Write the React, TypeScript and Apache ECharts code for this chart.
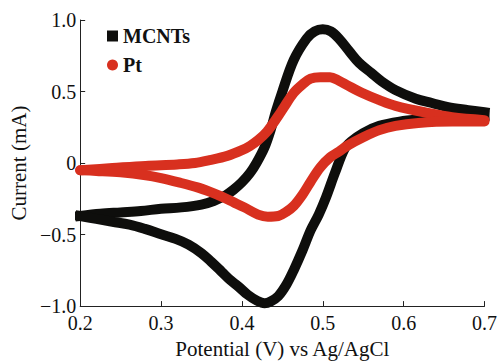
import React, { useEffect, useRef } from "react";
import * as echarts from "echarts";

const mcntsFwdV = [0.200, 0.225, 0.250, 0.275, 0.300, 0.325, 0.350, 0.365, 0.380, 0.390, 0.400, 0.410, 0.418, 0.428, 0.436, 0.442, 0.450, 0.464, 0.480, 0.490, 0.500, 0.510, 0.520, 0.533, 0.545, 0.560, 0.573, 0.590, 0.615, 0.635, 0.655, 0.680, 0.700];
const mcntsFwdI = [-0.37, -0.355, -0.345, -0.335, -0.32, -0.31, -0.29, -0.265, -0.225, -0.185, -0.135, -0.07, 0.0, 0.11, 0.24, 0.36, 0.50, 0.72, 0.87, 0.92, 0.935, 0.92, 0.87, 0.78, 0.70, 0.63, 0.57, 0.51, 0.45, 0.42, 0.39, 0.37, 0.355];

const mcntsRevV = [0.700, 0.660, 0.620, 0.595, 0.570, 0.550, 0.535, 0.527, 0.515, 0.504, 0.495, 0.485, 0.475, 0.464, 0.455, 0.445, 0.435, 0.428, 0.418, 0.407, 0.395, 0.386, 0.375, 0.362, 0.350, 0.334, 0.318, 0.301, 0.280, 0.261, 0.240, 0.220, 0.200];
const mcntsRevI = [0.33, 0.32, 0.305, 0.29, 0.26, 0.21, 0.15, 0.10, -0.07, -0.24, -0.36, -0.47, -0.61, -0.75, -0.85, -0.93, -0.97, -0.98, -0.96, -0.92, -0.86, -0.82, -0.76, -0.69, -0.63, -0.57, -0.53, -0.50, -0.46, -0.43, -0.41, -0.39, -0.37];

const ptFwdV = [0.200, 0.240, 0.281, 0.320, 0.342, 0.360, 0.382, 0.400, 0.410, 0.420, 0.431, 0.445, 0.452, 0.464, 0.475, 0.485, 0.497, 0.509, 0.520, 0.530, 0.549, 0.570, 0.590, 0.630, 0.660, 0.700];
const ptFwdI = [-0.05, -0.035, -0.02, -0.01, 0.0, 0.02, 0.05, 0.09, 0.12, 0.16, 0.22, 0.33, 0.39, 0.49, 0.55, 0.59, 0.60, 0.60, 0.575, 0.545, 0.49, 0.44, 0.40, 0.35, 0.32, 0.30];

const ptRevV = [0.700, 0.660, 0.618, 0.590, 0.570, 0.550, 0.530, 0.520, 0.509, 0.497, 0.485, 0.475, 0.464, 0.455, 0.445, 0.432, 0.420, 0.403, 0.390, 0.375, 0.360, 0.345, 0.322, 0.300, 0.281, 0.250, 0.220, 0.200];
const ptRevI = [0.29, 0.29, 0.28, 0.26, 0.23, 0.18, 0.12, 0.08, 0.04, -0.03, -0.13, -0.22, -0.30, -0.34, -0.37, -0.375, -0.36, -0.31, -0.275, -0.235, -0.20, -0.17, -0.135, -0.105, -0.085, -0.065, -0.055, -0.05];

const seriesNames = ["MCNTs", "Pt"];
const xTitle = "Potential (V) vs Ag/AgCl";
const yTitle = "Current (mA)";

const BLACK = "#0e0e0c";
const RED = "#d8301f";
const FONT = "Times New Roman, Liberation Serif, Tinos, Nimbus Roman, serif";

const zip = (v: number[], i: number[]) => v.map((x, k) => [x, i[k]]);

export default function App() {
  const ref = useRef<HTMLDivElement>(null);
  useEffect(() => {
    if (!ref.current) return;
    const chart = echarts.init(ref.current, undefined, { renderer: "svg" });
    const mk = (name: string, data: number[][], color: string, cap: string) => ({
      name,
      type: "line",
      data,
      smooth: 0.35,
      showSymbol: false,
      symbol: "none",
      clip: false,
      lineStyle: { color, width: 10, cap, join: "round" },
      itemStyle: { color },
    });
    chart.setOption({
      animation: false,
      grid: { left: 76, right: 13, top: 20, bottom: 55 },
      legend: {
        orient: "vertical",
        left: 102,
        top: 21,
        itemWidth: 11,
        itemHeight: 11,
        itemGap: 9,
        selectedMode: false,
        textStyle: { fontFamily: FONT, fontSize: 20, fontWeight: "bold", color: "#111" },
        data: [
          { name: seriesNames[0], icon: "rect" },
          { name: seriesNames[1], icon: "circle" },
        ],
      },
      xAxis: {
        type: "value",
        min: 0.2,
        max: 0.7,
        interval: 0.1,
        name: xTitle,
        nameLocation: "middle",
        nameGap: 29,
        nameTextStyle: { fontFamily: FONT, fontSize: 21, color: "#111" },
        axisLine: { onZero: false, lineStyle: { color: "#222", width: 1 } },
        axisTick: { inside: true, length: 5, lineStyle: { color: "#222" } },
        axisLabel: {
          margin: 9,
          lineHeight: 16,
          fontFamily: FONT,
          fontSize: 20,
          color: "#111",
          formatter: (v: number) => v.toFixed(1),
        },
        splitLine: { show: false },
      },
      yAxis: {
        type: "value",
        min: -1,
        max: 1,
        interval: 0.5,
        name: yTitle,
        nameLocation: "middle",
        nameGap: 45,
        nameTextStyle: { fontFamily: FONT, fontSize: 21, color: "#111" },
        axisLine: { show: true, onZero: false, lineStyle: { color: "#222", width: 1 } },
        axisTick: { show: true, inside: true, length: 5, lineStyle: { color: "#222" } },
        axisLabel: {
          margin: 4,
          lineHeight: 12,
          fontFamily: FONT,
          fontSize: 20,
          color: "#111",
          formatter: (v: number) => (Math.abs(v) < 1e-9 ? "0" : v.toFixed(1).replace("-", "\u2212")),
        },
        splitLine: { show: false },
      },
      series: [
        mk(seriesNames[0], zip(mcntsFwdV, mcntsFwdI), BLACK, "square"),
        mk(seriesNames[0], zip(mcntsRevV, mcntsRevI), BLACK, "square"),
        mk(seriesNames[1], zip(ptFwdV, ptFwdI), RED, "round"),
        mk(seriesNames[1], zip(ptRevV, ptRevI), RED, "round"),
      ],
    });
    return () => chart.dispose();
  }, []);
  return (
    <div
      ref={ref}
      style={{ position: "fixed", left: 0, top: 0, width: 500, height: 364, background: "#fff" }}
    />
  );
}
